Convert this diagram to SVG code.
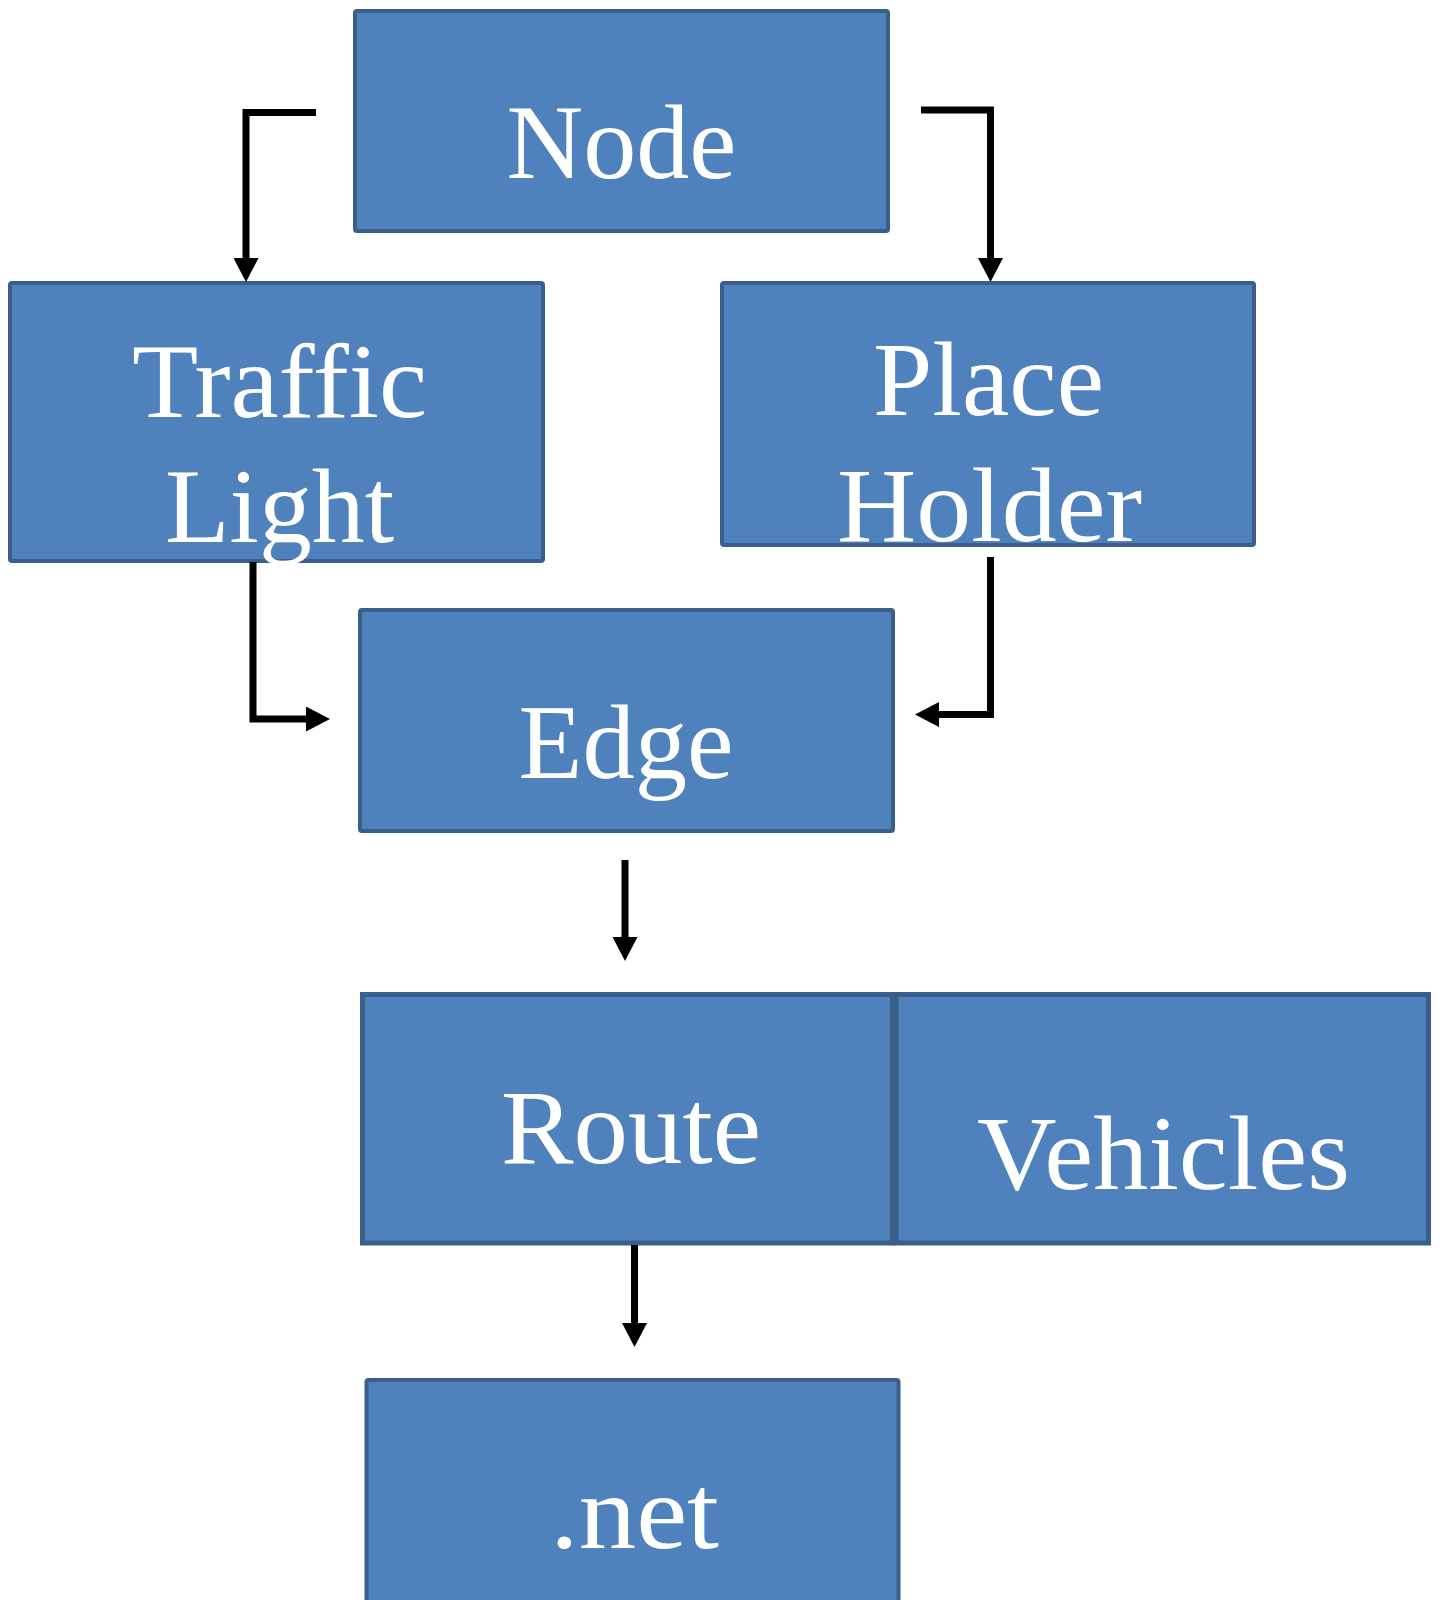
<svg xmlns="http://www.w3.org/2000/svg" width="1440" height="1600" viewBox="0 0 1440 1600">
<style>
.box{fill:#4F81BD;stroke:#3A5F8B;stroke-width:4}
.box2{fill:#4F81BD;stroke:#3A5F8B;stroke-width:5}
.lbl{font-family:"Liberation Serif","Times New Roman",serif;font-size:106px;fill:#FFFFFF;text-anchor:middle}
.conn{fill:none;stroke:#000000;stroke-width:7;stroke-linejoin:miter;stroke-linecap:butt}
</style>
<defs>
<marker id="arr" markerUnits="userSpaceOnUse" markerWidth="24" markerHeight="25" viewBox="0 0 24 25" refX="0" refY="12.5" orient="auto">
<path d="M0,0 L24,12.5 L0,25 z" fill="#000000"/>
</marker>
</defs>
<rect width="1440" height="1600" fill="#FFFFFF"/>
<g id="node-node">
<rect class="box" x="355" y="11" width="533" height="220" rx="2"/>
<text class="lbl" x="621.5" y="178" textLength="230" lengthAdjust="spacingAndGlyphs">Node</text>
</g>
<g id="node-traffic">
<rect class="box" x="10" y="283" width="533" height="278" rx="2"/>
<text class="lbl" x="279.5" y="417" textLength="295" lengthAdjust="spacingAndGlyphs">Traffic</text>
<text class="lbl" x="279.5" y="541.5" textLength="229" lengthAdjust="spacingAndGlyphs">Light</text>
</g>
<g id="node-place">
<rect class="box" x="722" y="283" width="532" height="262" rx="2"/>
<text class="lbl" x="988.5" y="415" textLength="231" lengthAdjust="spacingAndGlyphs">Place</text>
<text class="lbl" x="989.5" y="540.5" textLength="305" lengthAdjust="spacingAndGlyphs">Holder</text>
</g>
<g id="node-edge">
<rect class="box" x="360" y="610" width="533" height="221" rx="2"/>
<text class="lbl" x="626" y="778" textLength="215" lengthAdjust="spacingAndGlyphs">Edge</text>
</g>
<g id="node-route">
<rect class="box2" x="362.5" y="994.5" width="530" height="248.5"/>
<text class="lbl" x="631" y="1163" textLength="260" lengthAdjust="spacingAndGlyphs">Route</text>
</g>
<g id="node-vehicles">
<rect class="box2" x="896" y="994.5" width="532.5" height="248.5"/>
<text class="lbl" x="1163.5" y="1189" textLength="373" lengthAdjust="spacingAndGlyphs">Vehicles</text>
</g>
<g id="node-net">
<rect class="box" x="366.5" y="1380" width="532" height="260" rx="2"/>
<text class="lbl" x="634.5" y="1548" textLength="169" lengthAdjust="spacingAndGlyphs">.net</text>
</g>
<g id="connectors">
<path class="conn" d="M316,112.5 H246 V258" marker-end="url(#arr)"/>
<path class="conn" d="M921,110 H990.5 V258" marker-end="url(#arr)"/>
<path class="conn" d="M253,562 V719 H306" marker-end="url(#arr)"/>
<path class="conn" d="M990.5,557 V714.5 H939" marker-end="url(#arr)"/>
<path class="conn" d="M625,860 V937" marker-end="url(#arr)"/>
<path class="conn" d="M634.5,1245 V1323" marker-end="url(#arr)"/>
</g>
</svg>
